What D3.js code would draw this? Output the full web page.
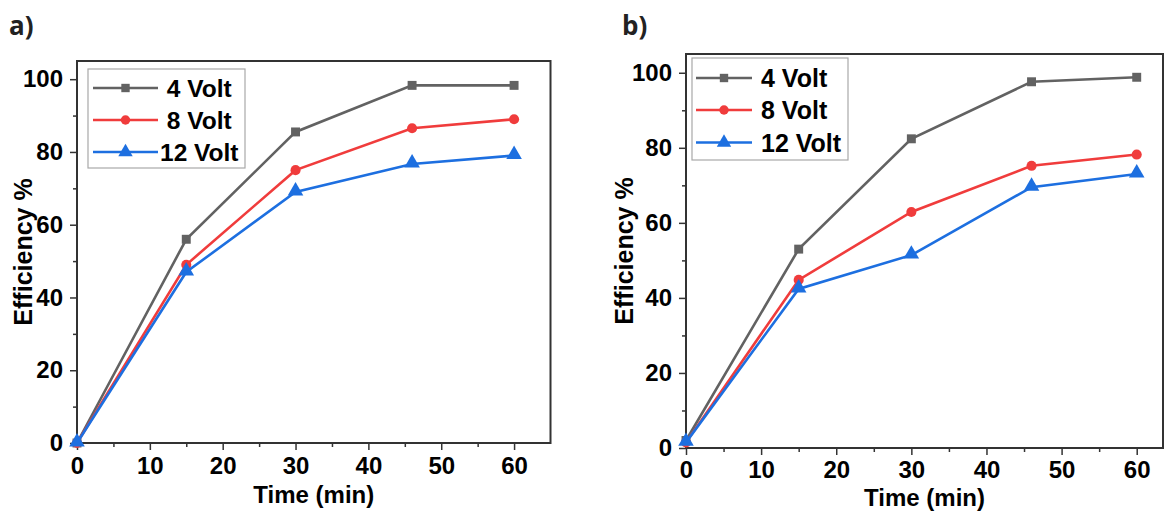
<!DOCTYPE html>
<html>
<head>
<meta charset="utf-8">
<script src="https://cdn.jsdelivr.net/npm/d3@7"></script>
<style>
  body { margin: 0; background: #fff; }
  svg { display: block; }
  text { font-family: "Liberation Sans", Arial, sans-serif; font-weight: bold; fill: #000; }
</style>
</head>
<body>
<div id="chart"></div>
<script>
// sampling times (min)
const times = [0, 15, 30, 46, 60];
const seriesNames = ["4 Volt", "8 Volt", "12 Volt"];
const colors = ["#626262", "#f03c3c", "#1d6fe0"];
const markers = [d3.symbolSquare, d3.symbolCircle, d3.symbolTriangle];

// panel a) efficiency %
const panelA_4V = [0, 56, 85.5, 98.3, 98.3];
const panelA_8V = [0, 49, 75, 86.5, 89];
const panelA_12V = [0, 47, 69, 76.7, 79];

// panel b) efficiency %
const panelB_4V = [2, 53, 82.4, 97.6, 98.8];
const panelB_8V = [1.5, 44.8, 62.9, 75.2, 78.2];
const panelB_12V = [1.5, 42.4, 51.4, 69.5, 73];

const xMajor = [0, 10, 20, 30, 40, 50, 60];
const xMinor = [5, 15, 25, 35, 45, 55];
const yMajor = [0, 20, 40, 60, 80, 100];
const yMinor = [10, 30, 50, 70, 90];

const W = 1166, H = 513;
const svg = d3.select("#chart").append("svg")
    .attr("width", W)
    .attr("height", H);

function drawPanel(cfg) {
    let x = d3.scaleLinear().domain([0, cfg.xMax]).range([cfg.left, cfg.right]);
    let y = d3.scaleLinear().domain([0, 105]).range([cfg.bottom, cfg.top]);
    let g = svg.append("g");

    // panel letter
    g.append("text")
        .attr("x", cfg.letterX)
        .attr("y", 35)
        .style("font-family", "'Open Sans', sans-serif")
        .style("font-size", "26px")
        .style("fill", "#222")
        .text(cfg.letter);

    // minor ticks
    g.append("g")
        .attr("transform", `translate(0,${cfg.bottom})`)
        .call(d3.axisBottom(x).tickValues(xMinor).tickSize(4).tickFormat(""))
        .call(a => a.select(".domain").remove());
    g.append("g")
        .attr("transform", `translate(${cfg.left},0)`)
        .call(d3.axisLeft(y).tickValues(yMinor).tickSize(4).tickFormat(""))
        .call(a => a.select(".domain").remove());

    // major ticks
    let xa = g.append("g")
        .attr("transform", `translate(0,${cfg.bottom})`)
        .call(d3.axisBottom(x).tickValues(xMajor).tickSize(7).tickPadding(cfg.xPad))
        .call(a => a.select(".domain").remove());
    xa.selectAll("text").style("font-size", "24px");

    let ya = g.append("g")
        .attr("transform", `translate(${cfg.left},0)`)
        .call(d3.axisLeft(y).tickValues(yMajor).tickSize(7).tickPadding(7))
        .call(a => a.select(".domain").remove());
    ya.selectAll("text").style("font-size", "24px");

    g.selectAll(".tick line").attr("stroke", "#333").attr("stroke-width", 1.5);
    g.selectAll(".tick text").attr("fill", "#000").style("font-family", "'Liberation Sans', Arial, sans-serif");

    // frame
    g.append("rect")
        .attr("x", cfg.left)
        .attr("y", cfg.top)
        .attr("width", cfg.right - cfg.left)
        .attr("height", cfg.bottom - cfg.top)
        .attr("fill", "none")
        .attr("stroke", "#333")
        .attr("stroke-width", 2);

    // axis titles
    g.append("text")
        .attr("x", (cfg.left + cfg.right) / 2)
        .attr("y", cfg.xTitleY)
        .attr("text-anchor", "middle")
        .style("font-size", "24px")
        .text("Time (min)");

    g.append("text")
        .attr("transform", `translate(${cfg.yTitleX},${(cfg.top + cfg.bottom) / 2}) rotate(-90)`)
        .attr("text-anchor", "middle")
        .style("font-size", "25px")
        .text("Efficiency %");

    // series
    let line = d3.line().x((d, i) => x(times[i])).y(d => y(d));
    cfg.series.forEach((vals, k) => {
        g.append("path")
            .datum(vals)
            .attr("d", line)
            .attr("fill", "none")
            .attr("stroke", colors[k])
            .attr("stroke-width", 2.6);
        let sym = d3.symbol().type(markers[k]).size(k === 2 ? 105 : 80);
        g.selectAll(".m" + k)
            .data(vals)
            .enter()
            .append("path")
            .attr("transform", (d, i) => `translate(${x(times[i])},${y(d) + (k === 2 ? -1 : 0)})`)
            .attr("d", sym)
            .attr("fill", colors[k]);
    });

    // legend
    let lg = cfg.legend;
    g.append("rect")
        .attr("x", lg.x)
        .attr("y", lg.y)
        .attr("width", lg.w)
        .attr("height", lg.h)
        .attr("fill", "#fff")
        .attr("stroke", "#a8a8a8")
        .attr("stroke-width", 1.2);
    seriesNames.forEach((name, k) => {
        let ry = lg.rows[k];
        g.append("line")
            .attr("x1", lg.lx1).attr("x2", lg.lx2)
            .attr("y1", ry).attr("y2", ry)
            .attr("stroke", colors[k])
            .attr("stroke-width", 2.6);
        g.append("path")
            .attr("transform", `translate(${(lg.lx1 + lg.lx2) / 2},${ry})`)
            .attr("d", d3.symbol().type(markers[k]).size(k === 2 ? 90 : 70))
            .attr("fill", colors[k]);
        g.append("text")
            .attr("x", lg.tx)
            .attr("y", ry)
            .attr("dy", "0.36em")
            .attr("xml:space", "preserve")
            .style("white-space", "pre")
            .style("font-size", lg.fs + "px")
            .text(lg.labels[k]);
    });
}

drawPanel({
    letter: "a)", letterX: 9,
    left: 77, right: 550.5, top: 61, bottom: 443, xMax: 65,
    xPad: 7, xTitleY: 503, yTitleX: 32,
    series: [panelA_4V, panelA_8V, panelA_12V],
    legend: {
        x: 88, y: 69, w: 157, h: 99,
        rows: [88, 120, 152], lx1: 93, lx2: 158, tx: 160, fs: 24.5,
        labels: [" " + seriesNames[0], " " + seriesNames[1], seriesNames[2]]
    }
});

drawPanel({
    letter: "b)", letterX: 622,
    left: 686, right: 1163, top: 54, bottom: 448, xMax: 63.5,
    xPad: 6, xTitleY: 506, yTitleX: 633,
    series: [panelB_4V, panelB_8V, panelB_12V],
    legend: {
        x: 692, y: 58, w: 156, h: 102,
        rows: [78, 110, 142.5], lx1: 696, lx2: 752, tx: 761, fs: 25,
        labels: seriesNames
    }
});
</script>
</body>
</html>
